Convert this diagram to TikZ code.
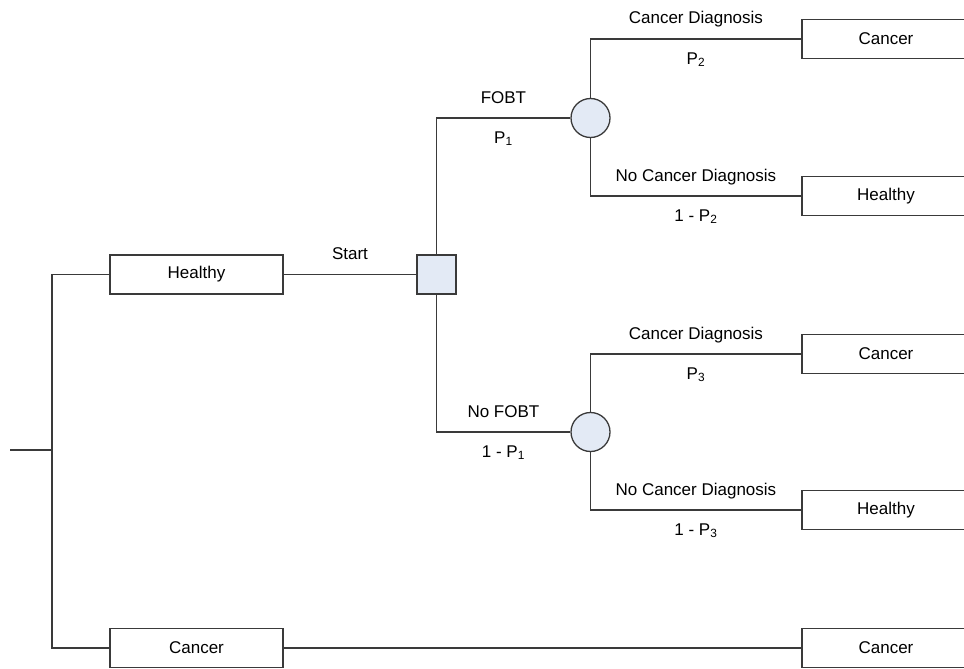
\documentclass[tikz,border=0pt]{standalone}
\usepackage{fontspec}
\setmainfont{Liberation Sans}
\definecolor{ln}{HTML}{3A3A3A}
\definecolor{fl}{HTML}{E3EAF5}
\begin{document}
\begin{tikzpicture}[x=1pt,y=-1pt,line width=1.3pt,color=ln,
  txt/.style={font=\fontsize{17}{20}\selectfont, text=black},
  lbox/.style={txt, rectangle, draw=ln, fill=white, minimum width=173pt, minimum height=39pt, inner sep=0pt},
  rbox/.style={txt, rectangle, draw=ln, fill=white, minimum width=168pt, minimum height=39pt, inner sep=0pt},
  decision/.style={rectangle, draw=ln, fill=fl, minimum width=39pt, minimum height=39pt, inner sep=0pt},
  chance/.style={circle, draw=ln, fill=fl, minimum size=39pt, inner sep=0pt},
  up/.style={txt, anchor=base, inner sep=0pt, yshift=15pt},
  dn/.style={txt, anchor=base, inner sep=0pt, yshift=-25pt}]
\useasboundingbox (0,0) rectangle (964,669);
\clip (0,0) rectangle (964,669);
% nodes
\coordinate (root) at (10,450);
\coordinate (rootj) at (52,450);
\node[lbox] (h0) at (196.5,274.5) {Healthy};
\node[lbox] (c0) at (196.5,648) {Cancer};
\node[decision] (d) at (436.5,274.5) {};
\node[chance] (k1) at (590.5,118) {};
\node[chance] (k2) at (590.5,432) {};
\node[rbox] (t1) at (886,39) {Cancer};
\node[rbox] (t2) at (886,196) {Healthy};
\node[rbox] (t3) at (886,354) {Cancer};
\node[rbox] (t4) at (886,510) {Healthy};
\node[rbox] (t5) at (886,648) {Cancer};
% connectors
\draw (root) -- (rootj);
\draw (rootj) |- (h0.west);
\draw (rootj) |- (c0.west);
\draw (h0) -- (d) node[up, midway] {Start};
\draw (c0) -- (t5);
\draw (d.north) |- (k1.west) node[up, pos=0.75] {FOBT} node[dn, pos=0.75] {P\textsubscript{1}};
\draw (d.south) |- (k2.west) node[up, pos=0.75] {No FOBT} node[dn, pos=0.75] {1 - P\textsubscript{1}};
\draw (k1.north) |- (t1.west) node[up, pos=0.75] {Cancer Diagnosis} node[dn, pos=0.75] {P\textsubscript{2}};
\draw (k1.south) |- (t2.west) node[up, pos=0.75] {No Cancer Diagnosis} node[dn, pos=0.75] {1 - P\textsubscript{2}};
\draw (k2.north) |- (t3.west) node[up, pos=0.75] {Cancer Diagnosis} node[dn, pos=0.75] {P\textsubscript{3}};
\draw (k2.south) |- (t4.west) node[up, pos=0.75] {No Cancer Diagnosis} node[dn, pos=0.75] {1 - P\textsubscript{3}};
\end{tikzpicture}
\end{document}
